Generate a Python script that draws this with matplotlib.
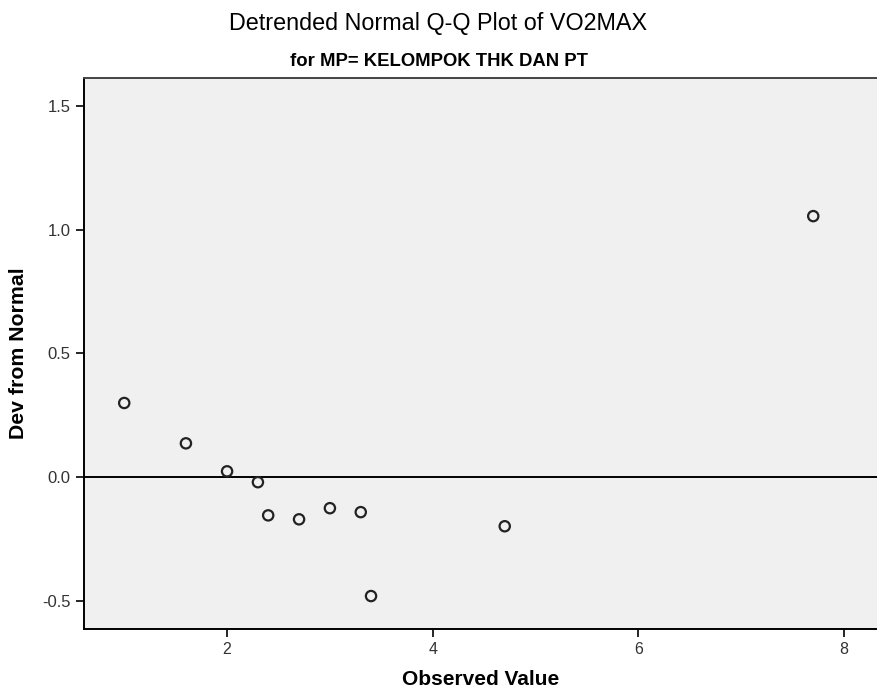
import matplotlib
matplotlib.use("Agg")
import matplotlib.pyplot as plt

observed = [1.0, 1.6, 2.0, 2.3, 2.4, 2.7, 3.0, 3.3, 3.4, 4.7, 7.7]
dev = [0.30, 0.137, 0.024, -0.02, -0.154, -0.17, -0.125, -0.141, -0.48, -0.198, 1.055]

x_ticks = [2, 4, 6, 8]
y_ticks = [-0.5, 0.0, 0.5, 1.0, 1.5]

plt.rcParams['font.family'] = ['Liberation Sans', 'DejaVu Sans']

fig = plt.figure(figsize=(8.77, 6.94), dpi=100)
ax = fig.add_axes([0.0958, 0.0937, 0.9042, 0.7939])
ax.set_facecolor('#f0f0f0')

ax.axhline(0.0, color='black', lw=1.4, zorder=1)
ax.scatter(observed, dev, s=55, facecolors='none', edgecolors='#222222',
           linewidths=1.6, zorder=3)

ax.set_xlim(0.609, 8.32)
ax.set_ylim(-0.613, 1.613)
ax.set_xticks(x_ticks)
ax.set_xticklabels([str(t) for t in x_ticks])
ax.set_yticks(y_ticks)
ax.set_yticklabels([f"{t:.1f}" for t in y_ticks])
ax.tick_params(direction='out', length=6, width=1.2, colors='black',
               labelcolor='#333333')
ax.tick_params(axis='y', labelsize=12)
ax.tick_params(axis='x', labelsize=11.5)

for side in ['left', 'bottom']:
    ax.spines[side].set_color('black')
    ax.spines[side].set_linewidth(1.4)
ax.spines['top'].set_color('#444444')
ax.spines['top'].set_linewidth(1.4)
ax.spines['right'].set_visible(False)

ax.set_xlabel('Observed Value', fontsize=15, fontweight='bold', labelpad=9)
ax.set_ylabel('Dev from Normal', fontsize=15.3, fontweight='bold', labelpad=10)

fig.text(0.5, 0.966, 'Detrended Normal Q-Q Plot of VO2MAX', ha='center', va='center',
         fontsize=16.8)
fig.text(0.5, 0.911, 'for MP= KELOMPOK THK DAN PT', ha='center', va='center',
         fontsize=13.3, fontweight='bold')

fig.savefig('out.png', dpi=100)
